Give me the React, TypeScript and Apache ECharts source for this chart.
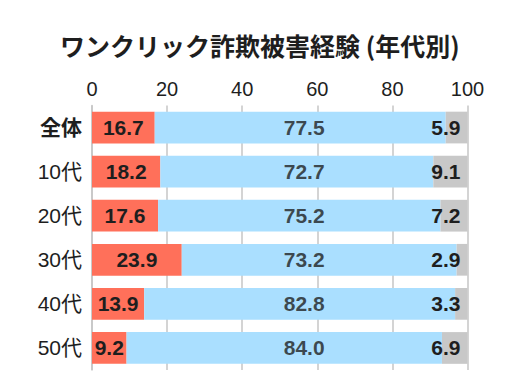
import React, { useEffect, useRef } from "react";
import * as echarts from "echarts";

const TITLE = "ワンクリック詐欺被害経験 (年代別)";
const CATEGORIES = ["全体", "10代", "20代", "30代", "40代", "50代"];
const RED_VALUES = [16.7, 18.2, 17.6, 23.9, 13.9, 9.2];
const BLUE_VALUES = [77.5, 72.7, 75.2, 73.2, 82.8, 84.0];
const GRAY_VALUES = [5.9, 9.1, 7.2, 2.9, 3.3, 6.9];
const BLUE_LABEL_AT = 56.5;

const FONT = "'Liberation Sans', 'Noto Sans CJK JP', sans-serif";
const NARROW = "'Liberation Sans Narrow', 'Liberation Sans', sans-serif";

export default function App() {
  const ref = useRef<HTMLDivElement>(null);
  useEffect(() => {
    if (!ref.current) return;
    const chart = echarts.init(ref.current, null, { renderer: "svg" });
    const barLabel = {
      show: true,
      color: "#1e1e1e",
      fontWeight: "bold" as const,
      fontSize: 21,
      fontFamily: FONT,
      textBorderWidth: 0,
      formatter: (p: any) => Number(p.value).toFixed(1),
    };
    chart.setOption({
      animation: false,
      backgroundColor: "#ffffff",
      title: {
        text: TITLE,
        left: 55,
        top: 27,
        textStyle: {
          fontFamily: "'Noto Sans CJK JP', sans-serif",
          fontWeight: "bold",
          fontSize: 25,
          color: "#1e1e1e",
        },
      },
      grid: { left: 92, right: 52.5, top: 105.5, bottom: 18 },
      xAxis: {
        type: "value",
        position: "top",
        min: 0,
        max: 100,
        interval: 20,
        axisLine: { show: false },
        axisTick: { show: false },
        axisLabel: {
          margin: 7,
          fontSize: 20,
          fontFamily: NARROW,
          color: "#1e1e1e",
        },
        splitLine: { show: true, lineStyle: { color: "#c6c6c6", width: 1.5 } },
      },
      yAxis: {
        type: "category",
        data: CATEGORIES,
        inverse: true,
        axisLine: { show: true, lineStyle: { color: "#c6c6c6", width: 1.5 } },
        axisTick: { show: false },
        axisLabel: {
          margin: 10,
          fontSize: 21,
          fontFamily: FONT,
          color: "#1e1e1e",
          formatter: (v: string, i: number) => (i === 0 ? `{b|${v}}` : v),
          rich: {
            b: { fontSize: 21, fontWeight: "bold", fontFamily: FONT, color: "#1e1e1e" },
          },
        },
      },
      series: [
        {
          type: "bar",
          stack: "t",
          data: RED_VALUES,
          barCategoryGap: "28%",
          itemStyle: { color: "#ff705a" },
          label: { ...barLabel, position: "inside" },
        },
        {
          type: "bar",
          stack: "t",
          data: BLUE_VALUES,
          itemStyle: { color: "#aadfff" },
          label: { show: false },
        },
        {
          type: "bar",
          stack: "t",
          data: GRAY_VALUES,
          itemStyle: { color: "#c8c8c8" },
          label: { ...barLabel, position: "insideRight", distance: 7 },
        },
        {
          type: "scatter",
          symbolSize: 0,
          itemStyle: { color: "rgba(0,0,0,0)" },
          data: BLUE_VALUES.map((v, i) => [BLUE_LABEL_AT, i]),
          label: {
            ...barLabel,
            position: "inside",
            formatter: (p: any) => Number(BLUE_VALUES[p.dataIndex]).toFixed(1),
          },
          z: 5,
        },
      ],
    });
    return () => chart.dispose();
  }, []);
  return (
    <div
      ref={ref}
      style={{ position: "fixed", left: 0, top: 0, width: 520, height: 388 }}
    />
  );
}
